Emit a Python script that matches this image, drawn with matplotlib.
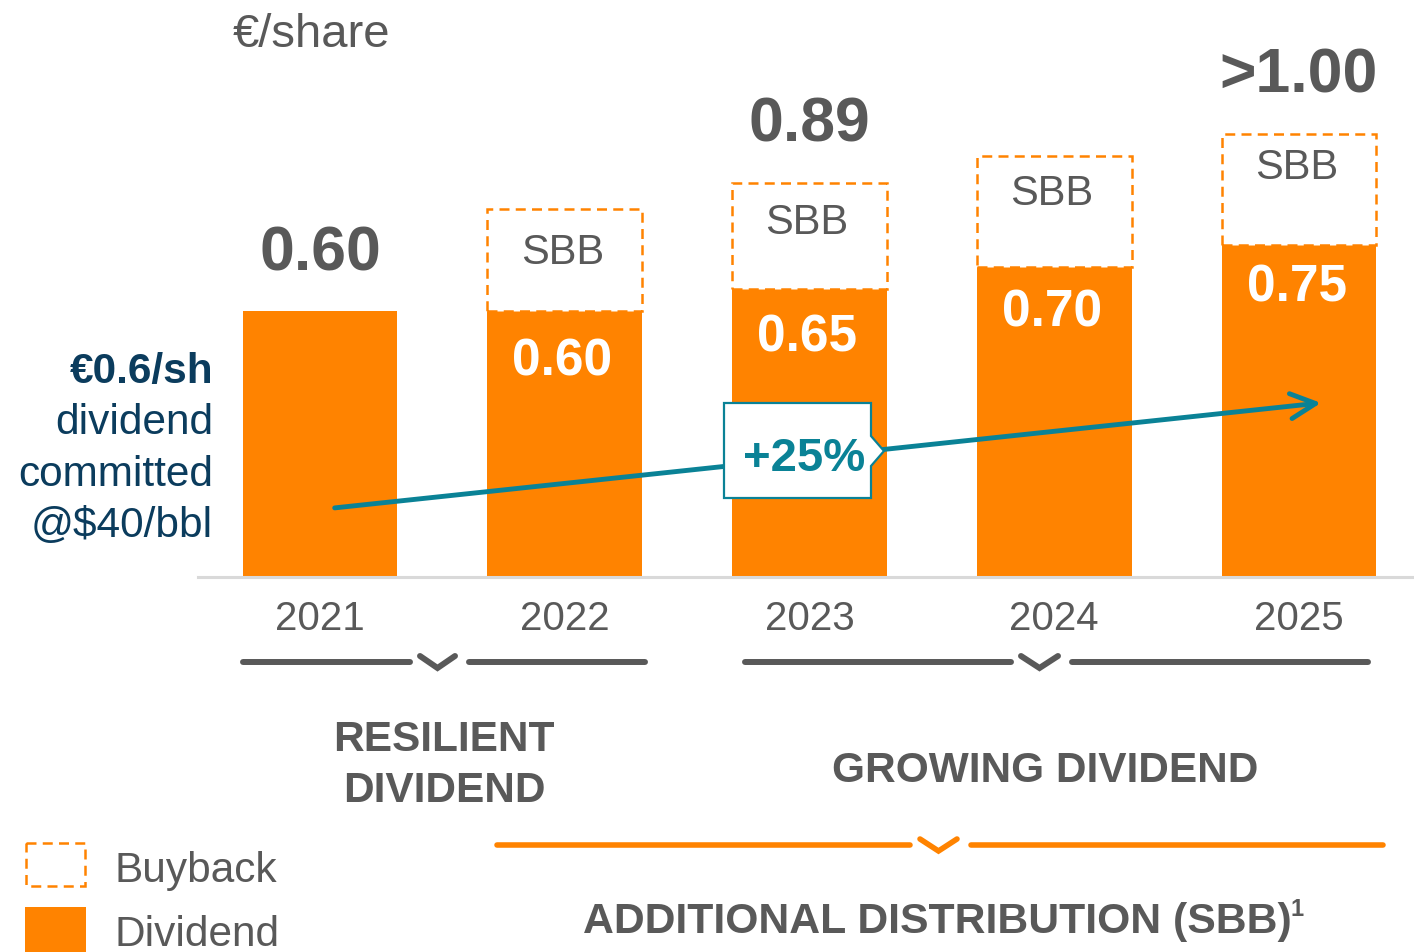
import matplotlib.pyplot as plt
from matplotlib.patches import Rectangle, Polygon
from matplotlib.lines import Line2D

plt.rcParams['font.family'] = ['Liberation Sans', 'DejaVu Sans']

# data
years = ['2021', '2022', '2023', '2024', '2025']
dividend = [0.60, 0.60, 0.65, 0.70, 0.75]
buyback = [0.0, 0.23, 0.24, 0.25, 0.25]
div_labels = ['', '0.60', '0.65', '0.70', '0.75']
top_labels = ['0.60', '', '0.89', '', '>1.00']
trend_x = [0.06, 4.09]
trend_y = [0.156, 0.393]

orange = '#FF8300'
grey = '#595959'
teal = '#0A8296'
navy = '#0B3C5D'

W, H = 1414, 953
fig = plt.figure(figsize=(W / 100, H / 100), dpi=100)

# main axes: baseline at y=578 px, left edge at x=198 px
ax = fig.add_axes([198 / W, 1 - 578 / H, (W - 198) / W, 578 / H])
ax.set_xlim(-0.4985, 4.47)
ax.set_ylim(0, 578 / 443)
ax.axis('off')

x = list(range(len(years)))
bw = 0.633
ax.bar(x, dividend, width=bw, color=orange, zorder=2)
tops = [d + b for d, b in zip(dividend, buyback)]
for i in x:
    if buyback[i] > 0:
        ax.bar(i, buyback[i], bottom=dividend[i], width=bw, facecolor='white',
               edgecolor=orange, lw=1.8, linestyle=(0, (4, 2.5)), zorder=3)
        # SBB label sits a bit higher in the box as the bars grow
        ax.text(i - 0.01, tops[i] - 0.128 + 0.007 * i, 'SBB', ha='center',
                va='baseline', fontsize=30, color=grey, zorder=5)
    if div_labels[i]:
        ax.text(i - 0.01, dividend[i] - 0.15 + 0.006 * i, div_labels[i],
                ha='center', va='baseline', fontsize=37, fontweight='bold',
                color='white', zorder=5)
    if top_labels[i]:
        ax.text(i, tops[i] + 0.095, top_labels[i], ha='center', va='baseline',
                fontsize=45, fontweight='bold', color=grey, zorder=5)

# trend arrow
ax.annotate('', xy=(trend_x[1], trend_y[1]), xytext=(trend_x[0], trend_y[0]),
            arrowprops=dict(arrowstyle='->,head_length=1.8,head_width=0.9',
                            color=teal, lw=3.5, shrinkA=0, shrinkB=0,
                            capstyle='round', joinstyle='round'),
            zorder=6)

# overlay in pixel coords for decorations
ov = fig.add_axes([0, 0, 1, 1], zorder=10)
ov.set_xlim(0, W)
ov.set_ylim(H, 0)
ov.axis('off')
ov.patch.set_alpha(0)

# baseline
ov.add_line(Line2D([198, W], [578, 578], color='#D9D9D9', lw=2.2))

# +25% callout
box = Polygon([(724, 404), (871, 404), (871, 437), (884, 452), (871, 467),
               (871, 499), (724, 499)], closed=True, facecolor='white',
              edgecolor=teal, lw=1.6)
ov.add_patch(box)
ov.text(804, 471, '+25%', ha='center', va='baseline', fontsize=34,
        fontweight='bold', color=teal)

# unit label
ov.text(233, 47, '€/share', ha='left', va='baseline', fontsize=34, color=grey)

# left note
ov.text(213, 383, '€0.6/sh', ha='right', va='baseline', fontsize=30.5,
        fontweight='bold', color=navy)
for yy, s in zip([434, 486, 537], ['dividend', 'committed', '@$40/bbl']):
    ov.text(213, yy, s, ha='right', va='baseline', fontsize=30.5, color=navy)

# year labels
centers = [320, 565, 810, 1054, 1299]
for cx, yr in zip(centers, years):
    ov.text(cx, 630, yr, ha='center', va='baseline', fontsize=29, color=grey)


def brace(x0, x1, c0, c1, y, color, lw):
    ov.add_line(Line2D([x0, c0 - 10], [y, y], color=color, lw=lw,
                       solid_capstyle='round'))
    ov.add_line(Line2D([c1 + 14, x1], [y, y], color=color, lw=lw,
                       solid_capstyle='round'))
    ov.add_line(Line2D([c0, (c0 + c1) / 2, c1], [y - 6, y + 6, y - 6],
                       color=color, lw=lw, solid_capstyle='round',
                       solid_joinstyle='miter'))


brace(243, 645, 420, 455, 663, grey, 4.3)
brace(745, 1368, 1021, 1058, 663, grey, 4.3)
brace(497, 1383, 920, 957, 846, orange, 4.0)

ov.text(444, 751, 'RESILIENT', ha='center', va='baseline', fontsize=30.5,
        fontweight='bold', color=grey)
ov.text(444, 802, 'DIVIDEND', ha='center', va='baseline', fontsize=30.5,
        fontweight='bold', color=grey)
ov.text(1045, 782, 'GROWING DIVIDEND', ha='center', va='baseline', fontsize=30.5,
        fontweight='bold', color=grey)
ov.text(937, 933, 'ADDITIONAL DISTRIBUTION (SBB)', ha='center',
        va='baseline', fontsize=30.8, fontweight='bold', color=grey)
ov.text(1291, 916, '1', ha='left', va='baseline', fontsize=17,
        fontweight='bold', color=grey)

# legend
ov.add_patch(Rectangle((26, 844), 59, 43, facecolor='white', edgecolor=orange,
                       lw=1.8, linestyle=(0, (4, 2.5))))
ov.add_patch(Rectangle((25, 908), 61, 45, facecolor=orange, edgecolor='none'))
ov.text(114, 882, 'Buyback', ha='left', va='baseline', fontsize=30.5, color=grey)
ov.text(114, 946, 'Dividend', ha='left', va='baseline', fontsize=30.5, color=grey)

plt.savefig('out.png', dpi=100)
